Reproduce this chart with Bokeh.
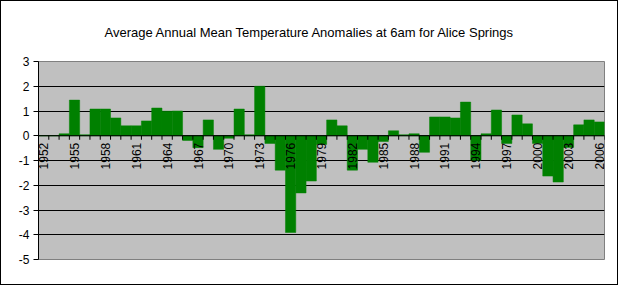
import math
from bokeh.plotting import figure
from bokeh.models import FixedTicker, Span, Range1d
from bokeh.core.properties import value
from bokeh.embed import file_html
from bokeh.resources import INLINE

title_text = "Average Annual Mean Temperature Anomalies at 6am for Alice Springs"
years = list(range(1952, 2007))
anomalies = [
    0.00, 0.00, 0.08, 1.44, 0.04, 1.08, 1.08, 0.72, 0.40, 0.40,   # 1952-1961
    0.60, 1.12, 0.99, 1.00, -0.19, -0.48, 0.64, -0.55, -0.10, 1.08,  # 1962-1971
    0.04, 2.00, -0.31, -1.39, -3.91, -2.31, -1.83, -0.35, 0.64, 0.40,  # 1972-1981
    -1.39, -0.55, -1.07, -0.23, 0.20, 0.04, 0.08, -0.67, 0.76, 0.76,  # 1982-1991
    0.72, 1.36, -0.99, 0.08, 1.04, -0.31, 0.84, 0.48, -0.31, -1.63,  # 1992-2001
    -1.87, -0.47, 0.44, 0.64, 0.56,  # 2002-2006
]
y_ticks = [-5, -4, -3, -2, -1, 0, 1, 2, 3]
label_years = years[::3]
assert len(years) == len(anomalies)

FONT = "Liberation Sans"

p = figure(width=618, height=285, output_backend="svg", toolbar_location=None,
           x_range=Range1d(years[0] - 0.5, years[-1] + 0.5),
           y_range=Range1d(y_ticks[0], y_ticks[-1]),
           x_axis_location=None,
           min_border_left=37, min_border_right=15,
           min_border_top=59, min_border_bottom=27)

p.styles = {"border": "1px solid black"}

p.title.text = title_text
p.title.align = "left"
p.title.offset = 66
p.title.standoff = 43
p.title.text_font = FONT
p.title.text_font_size = "13px"
p.title.text_font_style = "normal"
p.title.text_color = "black"

p.background_fill_color = "#C0C0C0"
p.border_fill_color = "white"
p.outline_line_color = "#808080"
p.outline_line_width = 1

p.yaxis.ticker = FixedTicker(ticks=y_ticks)
p.yaxis.major_label_overrides = {t: str(t) for t in y_ticks}
p.yaxis.minor_tick_line_color = None
p.yaxis.major_tick_out = 5
p.yaxis.major_tick_in = 0
p.yaxis.axis_line_color = "black"
p.yaxis.major_tick_line_color = "black"
p.yaxis.major_label_standoff = 4
p.yaxis.major_label_text_font = FONT
p.yaxis.major_label_text_font_size = "12px"
p.yaxis.major_label_text_color = "black"

p.ygrid.ticker = FixedTicker(ticks=y_ticks)
p.ygrid.grid_line_color = "black"
p.xgrid.grid_line_color = None

p.vbar(x=years, top=anomalies, bottom=0, width=1.0,
       fill_color="#008000", line_color="#008000", line_width=0.5)

p.add_layout(Span(location=0, dimension="width", line_color="black", line_width=1))

boundaries = [y - 0.5 for y in years] + [years[-1] + 0.5]
p.ray(x=boundaries, y=[0] * len(boundaries), length=4, length_units="screen",
      angle=-math.pi / 2, line_color="black", line_width=1)

p.text(x=label_years, y=[0] * len(label_years), text=[str(y) for y in label_years],
       angle=math.pi / 2, text_align="right", text_baseline="middle", y_offset=7,
       text_font=value(FONT), text_font_size="12px", text_color="black")

open("out.html", "w").write(file_html(p, INLINE))
